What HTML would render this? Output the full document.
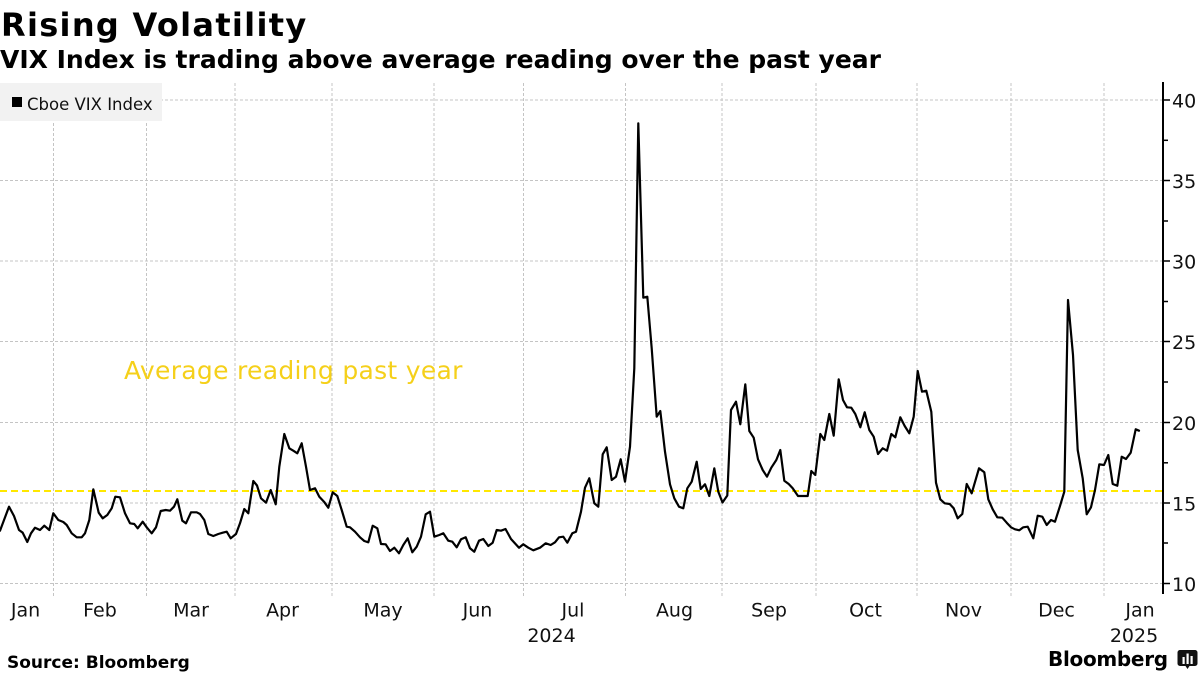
<!DOCTYPE html>
<html>
<head>
<meta charset="utf-8">
<style>
  html,body{margin:0;padding:0;background:#fff;}
  body{width:1200px;height:675px;overflow:hidden;}
  svg{display:block;}
  .ax{font-family:"DejaVu Sans","Liberation Sans",sans-serif;font-size:19px;fill:#111;}
</style>
</head>
<body>
<svg width="1200" height="675" viewBox="0 0 1200 675" xmlns="http://www.w3.org/2000/svg">
  <rect x="0" y="0" width="1200" height="675" fill="#fff"/>

  <!-- Titles -->
  <text x="1" y="36" font-family="DejaVu Sans, Liberation Sans, sans-serif" font-weight="bold" font-size="32" letter-spacing="1.3" fill="#000">Rising Volatility</text>
  <text x="0" y="68" font-family="DejaVu Sans, Liberation Sans, sans-serif" font-weight="bold" font-size="25" fill="#000">VIX Index is trading above average reading over the past year</text>

  <!-- Horizontal gridlines -->
  <g stroke="#c4c4c4" stroke-width="1" stroke-dasharray="3 2">
    <line x1="0" y1="100" x2="1163" y2="100"/>
    <line x1="0" y1="180.5" x2="1163" y2="180.5"/>
    <line x1="0" y1="261" x2="1163" y2="261"/>
    <line x1="0" y1="341.5" x2="1163" y2="341.5"/>
    <line x1="0" y1="422.5" x2="1163" y2="422.5"/>
    <line x1="0" y1="503" x2="1163" y2="503"/>
    <line x1="0" y1="583.5" x2="1163" y2="583.5"/>
  </g>
  <!-- Vertical gridlines -->
  <g stroke="#c4c4c4" stroke-width="1" stroke-dasharray="3 2">
    <line x1="53.5" y1="83" x2="53.5" y2="597"/>
    <line x1="146.5" y1="83" x2="146.5" y2="597"/>
    <line x1="235" y1="83" x2="235" y2="597"/>
    <line x1="332" y1="83" x2="332" y2="597"/>
    <line x1="434" y1="83" x2="434" y2="597"/>
    <line x1="523.5" y1="83" x2="523.5" y2="597"/>
    <line x1="625.5" y1="83" x2="625.5" y2="597"/>
    <line x1="722" y1="83" x2="722" y2="597"/>
    <line x1="816" y1="83" x2="816" y2="597"/>
    <line x1="917" y1="83" x2="917" y2="597"/>
    <line x1="1011" y1="83" x2="1011" y2="597"/>
    <line x1="1104" y1="83" x2="1104" y2="597"/>
  </g>

  <!-- Legend -->
  <rect x="0" y="83" width="162" height="38" fill="#f2f2f2"/>
  <rect x="12" y="97" width="10" height="10" fill="#000"/>
  <text x="27" y="110" font-family="DejaVu Sans, Liberation Sans, sans-serif" font-size="16.5" fill="#111">Cboe VIX Index</text>

  <!-- Average line -->
  <line x1="0" y1="491" x2="1163" y2="491" stroke="#ffe800" stroke-width="2" stroke-dasharray="7 4"/>
  <text x="124" y="379" font-family="DejaVu Sans, Liberation Sans, sans-serif" font-size="25" letter-spacing="0.3" fill="#f5d01a">Average reading past year</text>

  <!-- Series -->
  <polyline fill="none" stroke="#000" stroke-width="2.2" stroke-linejoin="round" stroke-linecap="round" points="
0,530.7 9,506.7 14,516 19,530 22.7,532.7 27.3,542 31,533.3 35,527.7 40,530 44.3,525.7 49.3,530 53.3,513.3 58.3,520 63.3,522 66.7,525 71.7,533.3 76.7,537.3 81.7,537.3 85,533.3 89.3,520 93.3,489.3 98.7,512.7 102.7,518.3 107.3,515 111.7,508.3 115.3,496.7 120,497.3 125,513.3 130,523.3 134.3,524 137.7,528.3 142.7,521.7 146.7,527.3 151.7,533.3 156,527.3 160.7,511 165.7,510 170,510.7 174,506.7 177.3,499.3 182.3,520.7 186,523.3 191,512.3 196.7,512.3 200,514 204.3,520 208.3,534 213.3,536 218.3,534 222.7,532.7 226.7,531.7 230.7,538.3 236,534 240,523.3 244.3,509 248.3,513.3 253.3,481 257,485.5 261,498.3 266,502.7 270.7,490 275.7,504.3 279.3,466.7 284.3,434 289.3,448.3 293.3,450.7 297.3,453.3 301.7,443.3 306,466.7 310,490 315,488.3 319.3,496.7 324,501.7 328.3,507.7 332.7,492.3 337.3,496 341.7,510 346.7,526.7 350,527.3 355,531.7 360,537.3 364.3,541 368.3,542.3 372.7,525.7 377.3,528.3 381,544 385.7,544.3 390,551 394.3,547.7 399,553.3 403.3,545 407.7,538.3 412.3,552.3 416.7,546.7 421,536.7 425.7,514.3 430,511.7 434.3,536.7 439.3,535 443.3,533.3 448.3,540.7 452.3,541.7 456.7,547.3 461,539.3 465.7,537.3 470,548.3 474.3,551.7 479,540.7 483.3,539 488.3,546 492.7,542.7 496.7,530 501,530.7 505.5,529 511,539 519,547.7 523.3,544.3 528.3,547.7 533.3,550.3 540,547.7 545.7,543.3 550.7,545 555,542.3 559,537.3 563.3,536.7 567.3,542.7 572.3,533.3 576,531.7 581,511.7 585,487.7 589.3,478.3 594.3,503.3 598.3,506.7 602.7,454.3 606.7,447.3 611.7,480 616,476.7 620.7,459.3 625,481.7 630,446.7 634.3,368.3 638.3,123.3 643.3,297.7 647.3,296.7 651.7,348.3 656.7,416.7 660.3,411 665,451.7 670,484.3 674.3,498.3 679,506.7 683.3,508.3 687.3,488.3 691.7,481.7 696.7,461.7 700.7,489 705,484.3 709.3,496 714.3,468.3 718.3,491.7 722.5,502.5 727.3,495.5 731,410 736,401.7 740.3,424.3 745.3,384.3 749.3,431 753.7,437.7 758,459.3 762.7,470 767,476.7 771.3,467.7 776.3,460 780.3,450 784.3,480.7 788.7,484 792.7,488.3 798,496 803,496 807.7,496 811.3,471 815.3,475 820.3,434 824.3,440 829.3,414 833.7,435.7 838.7,379.3 843,400 847,407.3 851.3,407.7 855.3,414 860.3,427.3 864.7,412.3 869.3,430 873.7,436.7 878,454 882.7,448.3 887,450.7 891.3,434 895.3,437.3 900.3,417.3 904.7,426 909.3,433.3 913.7,416.7 917.7,371 922,391.7 926.3,390.7 931.3,411.7 936,482.7 940.3,499.3 944.7,503.3 949.7,504 953.7,508.3 957.7,518.3 962.3,514 966.7,484 971.7,493.3 979,468.3 984.3,472.3 988.3,499.3 992.7,509.3 997.3,517.3 1002.3,517.7 1006.7,522.7 1011,527.3 1015,529.3 1019.3,530.3 1023.3,527.3 1027.7,526.7 1033.3,538.3 1037.7,515.7 1042.3,516.7 1046.7,525 1051,520 1055,521.7 1060,506 1064.3,491.7 1068,300 1073,355 1077.7,450 1082.7,478.3 1086.7,514.3 1091,507.3 1095,490 1099.3,464.3 1104,465 1108.3,455 1112.7,484 1117.3,485.7 1121.7,456.7 1126,459 1130.7,452.7 1135.7,429.3 1139,430.7"/>

  <!-- Y axis -->
  <line x1="1163" y1="82" x2="1163" y2="594" stroke="#000" stroke-width="2"/>
  <g stroke="#000" stroke-width="1.5">
    <line x1="1163" y1="100" x2="1170" y2="100"/>
    <line x1="1163" y1="180.5" x2="1170" y2="180.5"/>
    <line x1="1163" y1="261" x2="1170" y2="261"/>
    <line x1="1163" y1="341.5" x2="1170" y2="341.5"/>
    <line x1="1163" y1="422.5" x2="1170" y2="422.5"/>
    <line x1="1163" y1="503" x2="1170" y2="503"/>
    <line x1="1163" y1="583.5" x2="1170" y2="583.5"/>
    <line x1="1163" y1="140.3" x2="1168" y2="140.3"/>
    <line x1="1163" y1="221" x2="1168" y2="221"/>
    <line x1="1163" y1="301.5" x2="1168" y2="301.5"/>
    <line x1="1163" y1="382" x2="1168" y2="382"/>
    <line x1="1163" y1="462.8" x2="1168" y2="462.8"/>
    <line x1="1163" y1="543" x2="1168" y2="543"/>
  </g>
  <g class="ax">
    <text x="1172" y="107.5">40</text>
    <text x="1172" y="188">35</text>
    <text x="1172" y="268.5">30</text>
    <text x="1172" y="349">25</text>
    <text x="1172" y="430">20</text>
    <text x="1172" y="510.5">15</text>
    <text x="1172" y="591">10</text>
  </g>

  <!-- X axis labels -->
  <g class="ax" text-anchor="middle">
    <text x="25.5" y="616.5">Jan</text>
    <text x="100" y="616.5">Feb</text>
    <text x="191" y="616.5">Mar</text>
    <text x="282.5" y="616.5">Apr</text>
    <text x="383" y="616.5">May</text>
    <text x="477.5" y="616.5">Jun</text>
    <text x="573" y="616.5">Jul</text>
    <text x="674.5" y="616.5">Aug</text>
    <text x="769" y="616.5">Sep</text>
    <text x="865.5" y="616.5">Oct</text>
    <text x="963.5" y="616.5">Nov</text>
    <text x="1056.5" y="616.5">Dec</text>
    <text x="1140" y="616.5">Jan</text>
    <text x="551.5" y="642">2024</text>
    <text x="1134" y="642">2025</text>
  </g>

  <!-- Footer -->
  <text x="7" y="668" font-family="DejaVu Sans, Liberation Sans, sans-serif" font-weight="bold" font-size="17" fill="#000">Source: Bloomberg</text>
  <text x="1048" y="666" font-family="DejaVu Sans, Liberation Sans, sans-serif" font-weight="bold" font-size="20" letter-spacing="-0.3" fill="#000">Bloomberg</text>
  <g>
    <path d="M1180,650 h15 a2.5,2.5 0 0 1 2.5,2.5 v11 a2.5,2.5 0 0 1 -2.5,2.5 h-5.5 l-2,3 l-2,-3 h-5.5 a2.5,2.5 0 0 1 -2.5,-2.5 v-11 a2.5,2.5 0 0 1 2.5,-2.5 z" fill="#111"/>
    <rect x="1182.5" y="657" width="2.2" height="7" fill="#fff"/>
    <rect x="1186.5" y="653.5" width="2.2" height="10.5" fill="#fff"/>
    <rect x="1190.5" y="656" width="2.2" height="8" fill="#fff"/>
  </g>
</svg>
</body>
</html>
